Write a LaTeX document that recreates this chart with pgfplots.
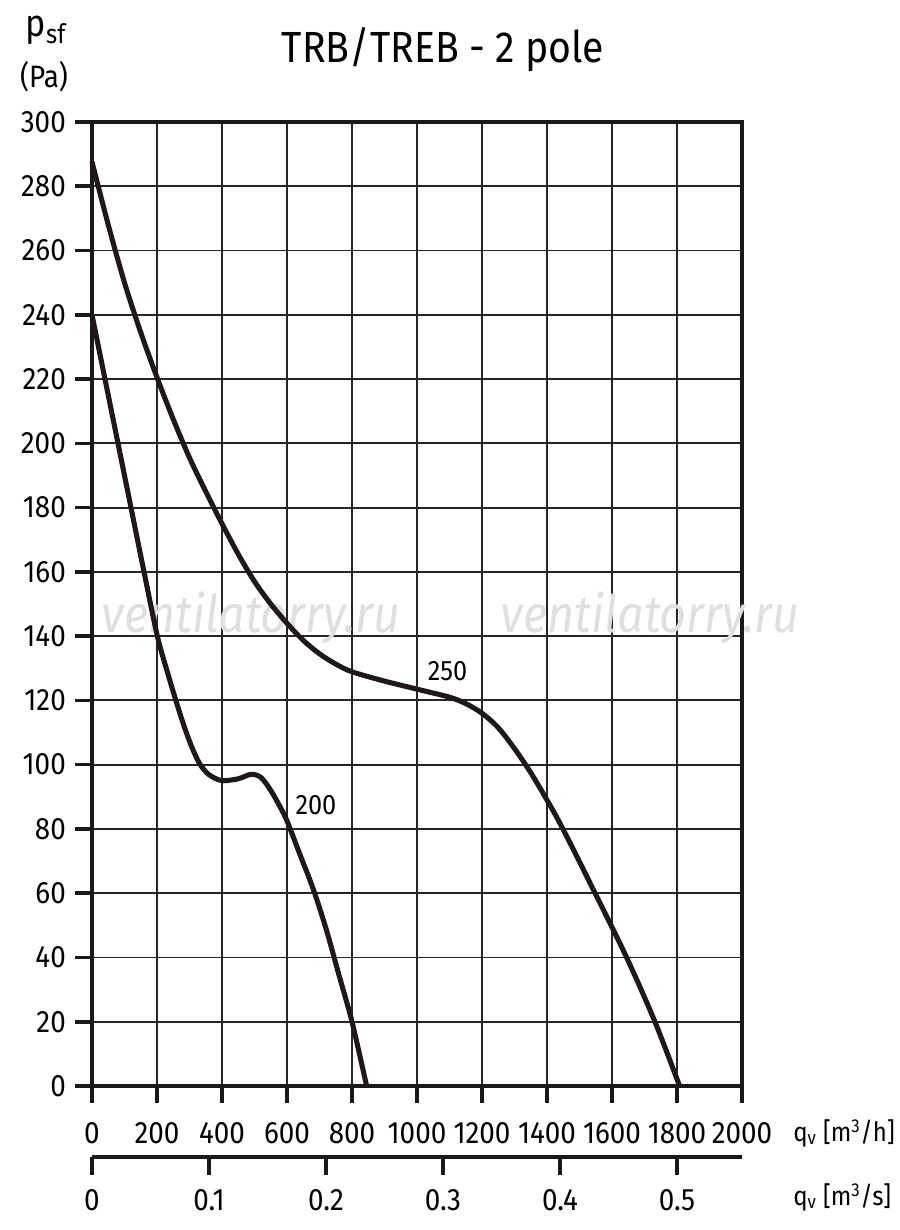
\documentclass[border=0pt]{standalone}
\usepackage{fontspec}
\setmainfont{Fira Sans}[Numbers=Proportional, FakeStretch=0.9]
\usepackage{pgfplots}
\pgfplotsset{compat=1.18}
\definecolor{curve}{RGB}{30,24,24}

% fan curves, static pressure (Pa) over air flow (m3/h)
\pgfplotstableread{
x y
0 287.6
50 268
100 250
150 234.5
200 220.5
250 207.5
300 195.5
350 185
400 175
450 165.5
500 157
550 150
600 144
650 138.7
700 134.5
750 131.3
800 128.9
900 126
1000 123.5
1100 121
1150 119
1200 116
1250 111.5
1300 105
1350 97.5
1400 89
1449 80
1548 60
1645 40
1732 20
1808 0
}\curveA

\pgfplotstableread{
x y
0 240
50 215
100 190
150 165
200 140.5
230 129.5
255 121
280 113
305 106
330 100.5
355 97.3
380 95.7
404 95
450 95.6
490 97
520 96
550 92
578 87
600 82.5
640 72
680 61.5
720 49
760 34.5
800 20
845 0
}\curveB

\begin{document}
\begin{tikzpicture}[x=1mm,y=1mm]
\fontsize{22}{26}\selectfont
\path[use as bounding box] (-23,-36) rectangle (202,271.5);
\begin{axis}[
  at={(0mm,0mm)}, anchor=south west,
  scale only axis, width=162.5mm, height=241mm,
  xmin=0, xmax=2000, ymin=0, ymax=300,
  xtick={0,200,...,2000}, ytick={0,20,...,300},
  tick pos=left,
  grid=major,
  major grid style={line width=1.3pt, black!85},
  axis line style={line width=2.6pt, black!90},
  tick style={line width=2.6pt, black!90},
  tick align=outside,
  major tick length=4.2mm,
  xticklabel style={yshift=-2.3mm},
  yticklabel style={xshift=0.3mm},
  /pgf/number format/assume math mode=true,
  /pgf/number format/1000 sep={},
  ticklabel style={font=\fontsize{22}{26}\selectfont},
  clip=false,
]
\node[text=gray!25, font=\itshape\fontsize{37}{40}\selectfont] at (axis cs:489,145.6) {ventilatorry.ru};
\node[text=gray!25, font=\itshape\fontsize{37}{40}\selectfont] at (axis cs:1717,145.6) {ventilatorry.ru};
\addplot[smooth, line width=3.6pt, color=curve] table[x=x,y=y] {\curveA};
\addplot[smooth, line width=3.6pt, color=curve] table[x=x,y=y] {\curveB};
\node[font=\fontsize{20}{22}\selectfont] at (axis cs:1094,129.2) {250};
\node[font=\fontsize{20}{22}\selectfont] at (axis cs:689,87.3) {200};
\end{axis}
% second flow scale in m3/s
\begin{axis}[
  at={(0mm,-17.75mm)}, anchor=south west,
  scale only axis, width=162.5mm, height=1mm,
  xmin=0, xmax=0.555556, ymin=0, ymax=1,
  axis x line=bottom, axis y line=none,
  axis line style={line width=2.6pt, black!90, -},
  xtick={0,0.1,...,0.5},
  xticklabels={0,0.1,0.2,0.3,0.4,0.5},
  tick style={line width=2.6pt, black!90},
  tick align=outside,
  major tick length=4.5mm,
  xticklabel style={yshift=-1mm},
  ticklabel style={font=\fontsize{22}{26}\selectfont},
]
\end{axis}
\node[anchor=west, inner sep=0pt, font=\fontsize{19}{22}\selectfont] at (175.25,-11.75) {q\textsubscript{v} [m\textsuperscript{3}/h]};
\node[anchor=west, inner sep=0pt, font=\fontsize{19}{22}\selectfont] at (175.25,-27.75) {q\textsubscript{v} [m\textsuperscript{3}/s]};
\node[font=\fontsize{31}{34}\selectfont] at (87.75,259) {TRB/TREB - 2 pole};
\node[font=\fontsize{27}{30}\selectfont] at (-11.5,264) {p\textsubscript{sf}};
\node[font=\fontsize{22}{26}\selectfont] at (-12,252.25) {(Pa)};
\end{tikzpicture}
\end{document}
